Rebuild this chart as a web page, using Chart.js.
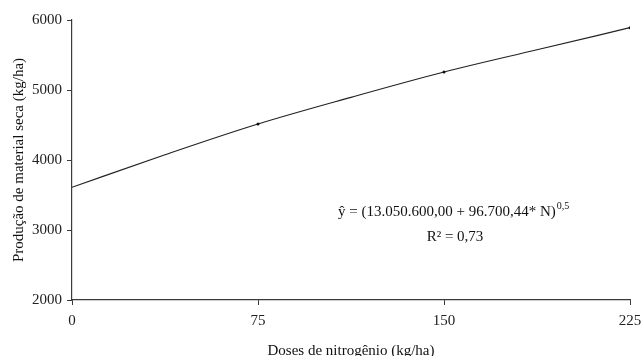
<!DOCTYPE html>
<html>
<head>
<meta charset="utf-8">
<script src="https://cdn.jsdelivr.net/npm/chart.js@4/dist/chart.umd.min.js"></script>
<style>
  html, body { margin: 0; padding: 0; background: #fff; }
  #wrap { width: 642px; height: 356px; }
</style>
</head>
<body>
<div id="wrap"><canvas id="chart" width="642" height="356"></canvas></div>
<script>
// ===== Data =====
const doses = [0, 37.5, 75, 112.5, 150, 187.5, 225];           // kg/ha N
const producao = [3610, 4075, 4514, 4895, 5257, 5575, 5890];  // kg/ha
const marcados = [75, 150, 225];                               // doses shown with a marker
const xTicks = [0, 75, 150, 225];
const yTicks = [2000, 3000, 4000, 5000, 6000];

const equacao = 'ŷ = (13.050.600,00 + 96.700,44* N)';
const expoente = '0,5';
const r2 = 'R² = 0,73';

const serif = "'Liberation Serif', 'Times New Roman', serif";
const axisColor = '#3a3a3a';

// Equation drawn inside the plot area
const equationPlugin = {
    id: 'equation',
    afterDraw(chart) {
        const ctx = chart.ctx;
        ctx.save();
        ctx.fillStyle = '#111';
        ctx.textBaseline = 'alphabetic';
        ctx.font = '15px ' + serif;
        const x0 = 338;
        ctx.textAlign = 'left';
        ctx.fillText(equacao, x0, 216);
        const w = ctx.measureText(equacao).width;
        ctx.font = '10px ' + serif;
        ctx.fillText(expoente, x0 + w + 1, 209);
        ctx.font = '15px ' + serif;
        ctx.textAlign = 'center';
        ctx.fillText(r2, 455, 241);
        ctx.restore();
    }
};

const ctx = document.getElementById('chart').getContext('2d');
new Chart(ctx, {
    type: 'scatter',
    data: {
        datasets: [{
            data: doses.map((d, i) => ({ x: d, y: producao[i] })),
            showLine: true,
            borderColor: '#222',
            borderWidth: 1.2,
            cubicInterpolationMode: 'monotone',
            pointRadius: doses.map(d => marcados.includes(d) ? 1.5 : 0),
            pointBackgroundColor: '#111',
            pointBorderWidth: 0
        }]
    },
    options: {
        responsive: false,
        animation: false,
        layout: { padding: { top: 20, right: 0, left: 0, bottom: 0 } },
        plugins: {
            legend: { display: false },
            tooltip: { enabled: false }
        },
        scales: {
            x: {
                type: 'linear',
                min: 0,
                max: 225,
                afterBuildTicks: scale => { scale.ticks = xTicks.map(v => ({ value: v })); },
                afterFit: scale => {
                    scale.height = 56;
                    scale.paddingLeft = 0;
                    scale.paddingRight = 12;
                },
                ticks: {
                    color: '#222',
                    font: { family: serif, size: 15 },
                    padding: 7,
                    maxRotation: 0,
                    callback: v => String(v)
                },
                grid: {
                    drawOnChartArea: false,
                    drawTicks: true,
                    tickLength: 5,
                    color: axisColor
                },
                border: { display: true, color: axisColor, width: 1.2 },
                title: {
                    display: true,
                    text: 'Doses de nitrogênio (kg/ha)',
                    color: '#111',
                    font: { family: serif, size: 15 },
                    padding: { top: 9, bottom: -4 }
                }
            },
            y: {
                min: 2000,
                max: 6000,
                afterBuildTicks: scale => { scale.ticks = yTicks.map(v => ({ value: v })); },
                afterFit: scale => { scale.width = 72; },
                ticks: {
                    color: '#222',
                    font: { family: serif, size: 15 },
                    padding: 5,
                    callback: v => String(v)
                },
                grid: {
                    drawOnChartArea: false,
                    drawTicks: true,
                    tickLength: 5,
                    color: axisColor
                },
                border: { display: true, color: axisColor, width: 1.2 },
                title: {
                    display: true,
                    text: 'Produção de material seca (kg/ha)',
                    color: '#111',
                    font: { family: serif, size: 15 },
                    padding: { top: 10, bottom: 0 }
                }
            }
        }
    },
    plugins: [equationPlugin]
});
</script>
</body>
</html>
